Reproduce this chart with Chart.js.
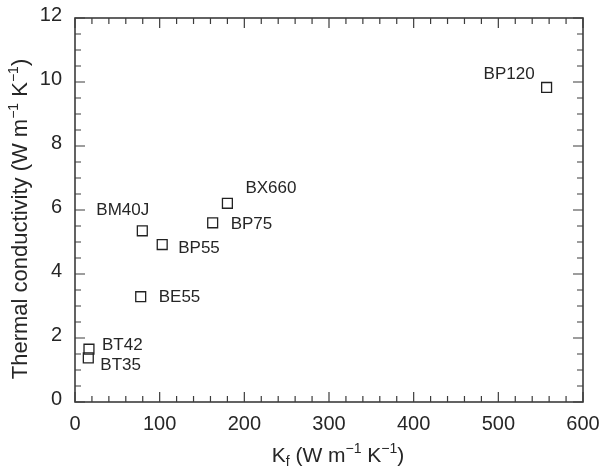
<!DOCTYPE html>
<html>
<head>
<meta charset="utf-8">
<script src="https://cdn.jsdelivr.net/npm/chart.js@4/dist/chart.umd.min.js"></script>
<style>
  html, body { margin: 0; padding: 0; background: #fff; }
  #wrap { width: 603px; height: 469px; }
</style>
</head>
<body>
<div id="wrap"><canvas id="grafico"></canvas></div>
<script>
// fibre grades and values
const grades = ['BT35', 'BT42', 'BE55', 'BM40J', 'BP55', 'BP75', 'BX660', 'BP120'];
const kf = [15.7, 16.5, 77.6, 79.5, 103, 162.6, 180, 557];
const conductivity = [1.38, 1.65, 3.29, 5.35, 4.92, 5.60, 6.21, 9.83];

// label placement relative to each marker (px): dx, dy, align
const labelOffsets = [
    [12, 7, 'left'], [13, -4, 'left'], [18, 1, 'left'], [-46, -20, 'left'],
    [16, 4, 'left'], [18, 2, 'left'], [18, -15, 'left'], [-12, -13, 'right']
];

const FONT = '"Liberation Sans", Arial, Helvetica, sans-serif';
const INK = '#262626';

function drawRich(ctx, parts, x, y, base) {
    // parts: [text, kind] kind: '', 'sup', 'sub'
    const size = { '': base, sup: Math.round(base * 0.65), sub: Math.round(base * 0.65) };
    let total = 0;
    parts.forEach(p => {
        ctx.font = size[p[1]] + 'px ' + FONT;
        total += ctx.measureText(p[0]).width;
    });
    let cx = x - total / 2;
    parts.forEach(p => {
        ctx.font = size[p[1]] + 'px ' + FONT;
        let dy = 0;
        if (p[1] === 'sup') dy = -base * 0.42;
        if (p[1] === 'sub') dy = base * 0.2;
        ctx.fillText(p[0], cx, y + dy);
        cx += ctx.measureText(p[0]).width;
    });
}

const framePlugin = {
    id: 'frame',
    afterDraw(chart) {
        const ctx = chart.ctx;
        const a = chart.chartArea;
        const xs = chart.scales.x, ys = chart.scales.y;
        ctx.save();
        ctx.strokeStyle = '#3c3c3c';
        ctx.lineWidth = 1.6;
        ctx.strokeRect(a.left, a.top, a.right - a.left, a.bottom - a.top);
        ctx.lineWidth = 1.2;
        ctx.beginPath();
        for (let v = 0; v <= 600; v += 20) {
            const px = xs.getPixelForValue(v);
            const len = v % 100 === 0 ? 10 : 6;
            ctx.moveTo(px, a.bottom); ctx.lineTo(px, a.bottom - len);
            ctx.moveTo(px, a.top); ctx.lineTo(px, a.top + len);
        }
        for (let v = 0; v <= 12; v += 0.5) {
            const py = ys.getPixelForValue(v);
            const len = v % 2 === 0 ? 10 : 6;
            ctx.moveTo(a.left, py); ctx.lineTo(a.left + len, py);
            ctx.moveTo(a.right, py); ctx.lineTo(a.right - len, py);
        }
        ctx.stroke();

        // axis titles
        ctx.fillStyle = INK;
        ctx.textBaseline = 'alphabetic';
        ctx.textAlign = 'left';
        drawRich(ctx, [['K', ''], ['f', 'sub'], [' (W m', ''], ['\u22121', 'sup'], [' K', ''], ['\u22121', 'sup'], [')', '']],
            338, 462, 21);
        ctx.translate(27, 219);
        ctx.rotate(-Math.PI / 2);
        drawRich(ctx, [['Thermal conductivity (W m', ''], ['\u22121', 'sup'], [' K', ''], ['\u22121', 'sup'], [')', '']], 0, 0, 22);
        ctx.restore();
    },
    afterDatasetsDraw(chart) {
        const ctx = chart.ctx;
        const meta = chart.getDatasetMeta(0);
        ctx.save();
        ctx.font = '17px ' + FONT;
        ctx.fillStyle = INK;
        ctx.textBaseline = 'middle';
        meta.data.forEach((pt, i) => {
            const off = labelOffsets[i];
            ctx.textAlign = off[2];
            ctx.fillText(grades[i], pt.x + off[0], pt.y + off[1]);
        });
        ctx.restore();
    }
};

function noPad(scale) {
    scale.paddingLeft = 0; scale.paddingRight = 0;
    scale.paddingTop = 0; scale.paddingBottom = 0;
}

const grafico = new Chart(document.getElementById('grafico').getContext('2d'), {
    type: 'scatter',
    data: {
        datasets: [{
            data: kf.map((v, i) => ({ x: v, y: conductivity[i] })),
            pointStyle: 'rect',
            pointRadius: 7,
            pointHoverRadius: 7,
            borderWidth: 1.3,
            borderColor: '#222',
            backgroundColor: 'rgba(255,255,255,0)'
        }]
    },
    options: {
        responsive: true,
        maintainAspectRatio: false,
        animation: false,
        events: [],
        layout: { padding: { top: 18, right: 20, left: 0, bottom: 0 } },
        plugins: { legend: { display: false }, tooltip: { enabled: false } },
        scales: {
            x: {
                type: 'linear', min: 0, max: 600,
                grid: { drawOnChartArea: false, drawTicks: false },
                border: { display: false },
                ticks: { stepSize: 100, padding: 10, color: INK, font: { family: FONT, size: 20 } },
                afterFit(scale) { scale.height = 67; noPad(scale); }
            },
            y: {
                type: 'linear', min: 0, max: 12,
                grid: { drawOnChartArea: false, drawTicks: false },
                border: { display: false },
                ticks: { stepSize: 2, padding: 13, labelOffset: -3, color: INK, font: { family: FONT, size: 20 } },
                afterFit(scale) { scale.width = 75; noPad(scale); }
            }
        }
    },
    plugins: [framePlugin]
});
</script>
</body>
</html>
